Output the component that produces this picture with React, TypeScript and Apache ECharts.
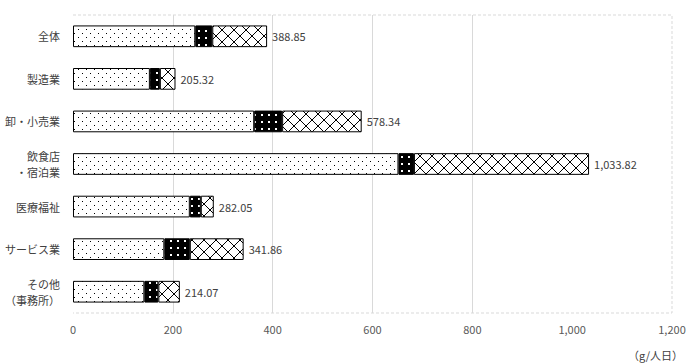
import React, { useEffect, useRef } from "react";
import * as echarts from "echarts";

const categories = ["全体", "製造業", "卸・小売業", "飲食店\n・宿泊業", "医療福祉", "サービス業", "その他\n（事務所）"];
const dottedValues = [245, 154, 363, 652, 234, 183, 143];
const blackValues = [34, 20, 56, 31, 22, 51, 28];
const crossValues = [109.85, 31.32, 159.34, 350.82, 26.05, 107.86, 43.07];
const totals = [388.85, 205.32, 578.34, 1033.82, 282.05, 341.86, 214.07];
const xTicks = [0, 200, 400, 600, 800, 1000, 1200];
const unitLabel = "（g/人日）";

const FONT = "'Noto Sans CJK JP', 'Noto Sans', sans-serif";

function makeCanvas(w: number, h: number, draw: (ctx: CanvasRenderingContext2D) => void) {
  const c = document.createElement("canvas");
  c.width = w;
  c.height = h;
  const ctx = c.getContext("2d")!;
  draw(ctx);
  return c;
}

export default function App() {
  const ref = useRef<HTMLDivElement>(null);
  useEffect(() => {
    document.body.style.margin = "0";
    if (!ref.current) return;
    const chart = echarts.init(ref.current, null, { renderer: "svg" });

    const dotted = makeCanvas(8, 8, (ctx) => {
      ctx.fillStyle = "#fff";
      ctx.fillRect(0, 0, 8, 8);
      ctx.fillStyle = "#000";
      ctx.fillRect(2, 1, 1, 1);
      ctx.fillRect(6, 5, 1, 1);
    });
    const dense = makeCanvas(7, 7, (ctx) => {
      ctx.fillStyle = "#000";
      ctx.fillRect(0, 0, 7, 7);
      ctx.fillStyle = "#fff";
      ctx.fillRect(2, 2, 2, 2);
    });
    const cross = makeCanvas(12, 12, (ctx) => {
      ctx.fillStyle = "#fff";
      ctx.fillRect(0, 0, 12, 12);
      ctx.strokeStyle = "#000";
      ctx.lineWidth = 1;
      ctx.beginPath();
      ctx.moveTo(0, 0);
      ctx.lineTo(12, 12);
      ctx.moveTo(12, 0);
      ctx.lineTo(0, 12);
      ctx.stroke();
    });
    const pat = (c: HTMLCanvasElement) => ({
      image: c,
      repeat: "repeat",
      imageWidth: c.width,
      imageHeight: c.height,
    });

    const gridLeft = 73, gridTop = 15, gridRight = 28, gridBottom = 50;
    const W = 700, H = 363;
    const x2 = W - gridRight, y2 = H - gridBottom;

    const barCommon = {
      type: "bar",
      stack: "total",
      barWidth: "51%",
      itemStyle: { borderColor: "#000", borderWidth: 1 },
    };

    chart.setOption({
      animation: false,
      textStyle: { fontFamily: FONT },
      grid: { left: gridLeft, top: gridTop, right: gridRight, bottom: gridBottom },
      xAxis: {
        type: "value",
        min: 0,
        max: 1200,
        interval: 200,
        axisLine: { show: false },
        axisTick: { show: false },
        axisLabel: {
          color: "#595959",
          fontSize: 11,
          margin: 10,
          fontFamily: FONT,
          formatter: (v: number) => (xTicks.includes(v) ? v.toLocaleString("en-US") : ""),
        },
        splitLine: {
          show: true,
          lineStyle: {
            color: ["rgba(0,0,0,0)", "#d9d9d9", "#d9d9d9", "#d9d9d9", "#d9d9d9", "rgba(0,0,0,0)", "rgba(0,0,0,0)"],
            width: 1,
          },
        },
      },
      yAxis: {
        type: "category",
        data: categories,
        inverse: true,
        axisLine: { show: false },
        axisTick: { show: false },
        axisLabel: { color: "#404040", fontSize: 11, margin: 13, lineHeight: 16, fontFamily: FONT },
      },
      graphic: [
        {
          type: "polyline",
          silent: true,
          shape: { points: [[gridLeft, gridTop], [x2, gridTop], [x2, y2], [gridLeft, y2]] },
          style: { stroke: "#d9d9d9", lineWidth: 1, lineDash: [3, 2], fill: null },
          z: -1,
        },
        {
          type: "text",
          right: 17,
          bottom: 3,
          style: { text: unitLabel, fill: "#404040", fontSize: 11, fontFamily: FONT },
        },
      ],
      series: [
        { ...barCommon, name: "a", data: dottedValues, itemStyle: { ...barCommon.itemStyle, color: pat(dotted) } },
        { ...barCommon, name: "b", data: blackValues, itemStyle: { ...barCommon.itemStyle, color: pat(dense) } },
        {
          ...barCommon,
          name: "c",
          data: crossValues,
          itemStyle: { ...barCommon.itemStyle, color: pat(cross) },
          label: {
            show: true,
            position: "right",
            distance: 5,
            color: "#404040",
            fontSize: 11,
            fontFamily: FONT,
            formatter: (p: any) =>
              totals[p.dataIndex].toLocaleString("en-US", { minimumFractionDigits: 2, maximumFractionDigits: 2 }),
          },
        },
      ],
    });
    return () => chart.dispose();
  }, []);
  return <div ref={ref} style={{ width: 700, height: 363 }} />;
}
